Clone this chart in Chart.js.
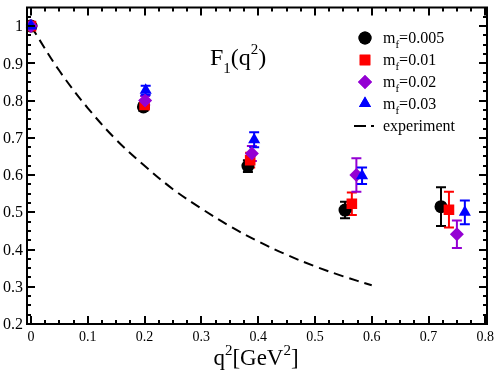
<!DOCTYPE html>
<html>
<head>
<meta charset="utf-8">
<script src="https://cdn.jsdelivr.net/npm/chart.js@4.4.1/dist/chart.umd.min.js"></script>
<style>
  html, body { margin: 0; padding: 0; background: #fff; }
  canvas { display: block; }
</style>
</head>
<body>
<canvas id="c" width="498" height="376"></canvas>
<script>
// ---- data ----
const xTickValues = [0, 0.1, 0.2, 0.3, 0.4, 0.5, 0.6, 0.7, 0.8];
const xTickLabels = ["0", "0.1", "0.2", "0.3", "0.4", "0.5", "0.6", "0.7", "0.8"];
const yTickValues = [0.2, 0.3, 0.4, 0.5, 0.6, 0.7, 0.8, 0.9, 1.0];
const yTickLabels = ["0.2", "0.3", "0.4", "0.5", "0.6", "0.7", "0.8", "0.9", "1"];

const seriesLabels = ["0.005", "0.01", "0.02", "0.03"];

const mf005X = [0, 0.198, 0.382, 0.553, 0.722];
const mf005Y = [1.0, 0.783, 0.624, 0.506, 0.515];
const mf005E = [0.004, 0.010, 0.016, 0.022, 0.052];

const mf01X = [0, 0.200, 0.386, 0.565, 0.736];
const mf01Y = [1.0, 0.788, 0.640, 0.523, 0.507];
const mf01E = [0.004, 0.012, 0.020, 0.030, 0.048];

const mf02X = [0, 0.201, 0.389, 0.573, 0.750];
const mf02Y = [1.0, 0.800, 0.658, 0.600, 0.441];
const mf02E = [0.004, 0.012, 0.020, 0.045, 0.037];

const mf03X = [0, 0.202, 0.393, 0.583, 0.764];
const mf03Y = [1.0, 0.828, 0.695, 0.598, 0.500];
const mf03E = [0.004, 0.012, 0.020, 0.022, 0.032];

const expX = [0, 0.05, 0.1, 0.15, 0.2, 0.25, 0.3, 0.35, 0.4, 0.45, 0.5, 0.55, 0.6];
const expY = [1.0, 0.88, 0.78, 0.695, 0.625, 0.562, 0.51, 0.463, 0.422, 0.386, 0.355, 0.328, 0.304];

// ---- build ----
const FONT = '"Liberation Serif", "DejaVu Serif", "Times New Roman", serif';
const seriesDefs = [
  { x: mf005X, y: mf005Y, e: mf005E, color: '#000000', style: 'circle', r: 6.5 },
  { x: mf01X, y: mf01Y, e: mf01E, color: '#ff0000', style: 'rect', r: 7.5 },
  { x: mf02X, y: mf02Y, e: mf02E, color: '#9400d3', style: 'rectRot', r: 7 },
  { x: mf03X, y: mf03Y, e: mf03E, color: '#0000ff', style: 'triangle', r: 7 }
];

const datasets = [
  {
    label: 'experiment',
    type: 'line',
    data: expX.map((x, i) => ({ x: x, y: expY[i] })),
    borderColor: '#000',
    borderWidth: 2,
    borderDash: [10, 6],
    pointRadius: 0,
    fill: false,
    tension: 0.35,
    order: 10
  }
];
seriesDefs.forEach((s, k) => {
  datasets.push({
    label: 'mf=' + seriesLabels[k],
    data: s.x.map((x, i) => ({ x: x, y: s.y[i] })),
    backgroundColor: s.color,
    borderColor: s.color,
    borderWidth: 0,
    pointStyle: s.style,
    pointRadius: s.r,
    pointHoverRadius: s.r,
    showLine: false,
    order: 4 - k
  });
});

function richWidth(ctx, parts) {
  let w = 0;
  parts.forEach(p => { ctx.font = p.size + 'px ' + FONT; w += ctx.measureText(p.t).width; });
  return w;
}
function drawRich(ctx, x, y, parts) {
  ctx.textAlign = 'left';
  ctx.textBaseline = 'alphabetic';
  parts.forEach(p => {
    ctx.font = p.size + 'px ' + FONT;
    ctx.fillText(p.t, x, y + (p.dy || 0));
    x += ctx.measureText(p.t).width;
  });
}

const decor = {
  id: 'decor',
  beforeDatasetsDraw(chart) {
    const ctx = chart.ctx, xs = chart.scales.x, ys = chart.scales.y;
    ctx.save();
    ctx.lineWidth = 2;
    seriesDefs.forEach(s => {
      ctx.strokeStyle = s.color;
      s.x.forEach((xv, i) => {
        const px = xs.getPixelForValue(xv);
        const pt = ys.getPixelForValue(s.y[i] + s.e[i]);
        const pb = ys.getPixelForValue(s.y[i] - s.e[i]);
        ctx.beginPath();
        ctx.moveTo(px, pt); ctx.lineTo(px, pb);
        ctx.moveTo(px - 5, pt); ctx.lineTo(px + 5, pt);
        ctx.moveTo(px - 5, pb); ctx.lineTo(px + 5, pb);
        ctx.stroke();
      });
    });
    ctx.restore();
  },
  afterDraw(chart) {
    const ctx = chart.ctx, xs = chart.scales.x, ys = chart.scales.y;
    const a = chart.chartArea;
    ctx.save();
    ctx.strokeStyle = '#000';
    ctx.lineWidth = 2;
    // frame
    ctx.strokeRect(a.left, a.top, a.right - a.left, a.bottom - a.top);
    // ticks (inward)
    ctx.beginPath();
    for (let v = 0; v <= 0.8001; v += 0.025) {
      const major = Math.abs(v * 10 - Math.round(v * 10)) < 1e-6;
      const L = major ? 8 : 4;
      const px = Math.round(xs.getPixelForValue(v));
      ctx.moveTo(px, a.bottom); ctx.lineTo(px, a.bottom - L);
      ctx.moveTo(px, a.top); ctx.lineTo(px, a.top + L);
    }
    for (let v = 0.2; v <= 1.05; v += 0.025) {
      const major = Math.abs(v * 10 - Math.round(v * 10)) < 1e-6;
      const L = major ? 8 : 4;
      const py = Math.round(ys.getPixelForValue(v));
      ctx.moveTo(a.left, py); ctx.lineTo(a.left + L, py);
      ctx.moveTo(a.right, py); ctx.lineTo(a.right - L, py);
    }
    ctx.stroke();

    ctx.fillStyle = '#000';
    // tick labels
    ctx.font = '14px ' + FONT;
    ctx.textAlign = 'center';
    ctx.textBaseline = 'middle';
    xTickValues.forEach((v, i) => {
      ctx.fillText(xTickLabels[i], xs.getPixelForValue(v), a.bottom + 13);
    });
    ctx.font = '16px ' + FONT;
    ctx.textAlign = 'right';
    yTickValues.forEach((v, i) => {
      ctx.fillText(yTickLabels[i], a.left - 4, ys.getPixelForValue(v) + 1);
    });

    // title F1(q^2)
    drawRich(ctx, 210, 65, [
      { t: 'F', size: 24 },
      { t: '1', size: 15, dy: 8 },
      { t: '(q', size: 24 },
      { t: '2', size: 15, dy: -11 },
      { t: ')', size: 24 }
    ]);
    // x axis title
    const xt = [
      { t: 'q', size: 23 },
      { t: '2', size: 15, dy: -10 },
      { t: '[GeV', size: 23 },
      { t: '2', size: 15, dy: -10 },
      { t: ']', size: 23 }
    ];
    const w = richWidth(ctx, xt);
    drawRich(ctx, 256 - w / 2, 365, xt);

    // legend
    const lx = 365, rows = [38, 60, 82, 103.5, 126];
    seriesDefs.forEach((s, k) => {
      ctx.fillStyle = s.color;
      ctx.strokeStyle = s.color;
      Chart.helpers.drawPoint(ctx, { pointStyle: s.style, radius: s.r, borderWidth: 0 }, lx, rows[k]);
      ctx.fill();
      ctx.fillStyle = '#000';
      drawRich(ctx, 383, rows[k] + 5, [
        { t: 'm', size: 16 },
        { t: 'f', size: 11, dy: 5 },
        { t: '=' + seriesLabels[k], size: 16 }
      ]);
    });
    ctx.strokeStyle = '#000';
    ctx.lineWidth = 2;
    ctx.beginPath();
    ctx.moveTo(354, rows[4]); ctx.lineTo(366, rows[4]);
    ctx.moveTo(371, rows[4]); ctx.lineTo(374, rows[4]);
    ctx.stroke();
    ctx.fillStyle = '#000';
    drawRich(ctx, 383, rows[4] + 5, [{ t: 'experiment', size: 16 }]);
    ctx.restore();
  }
};

new Chart(document.getElementById('c'), {
  type: 'scatter',
  data: { datasets: datasets },
  options: {
    responsive: false,
    animation: false,
    events: [],
    layout: { padding: { top: 2, right: 11, left: 0, bottom: 0 } },
    plugins: { legend: { display: false }, tooltip: { enabled: false }, title: { display: false } },
    scales: {
      x: {
        type: 'linear', min: -0.007, max: 0.803,
        grid: { display: false }, border: { display: false },
        afterBuildTicks: s => { s.ticks = xTickValues.map(v => ({ value: v })); },
        afterFit: s => { s.height = 52; },
        ticks: { display: false }
      },
      y: {
        type: 'linear', min: 0.2, max: 1.05,
        grid: { display: false }, border: { display: false },
        afterBuildTicks: s => { s.ticks = yTickValues.map(v => ({ value: v })); },
        afterFit: s => { s.width = 27; },
        ticks: { display: false }
      }
    }
  },
  plugins: [decor]
});
</script>
</body>
</html>
